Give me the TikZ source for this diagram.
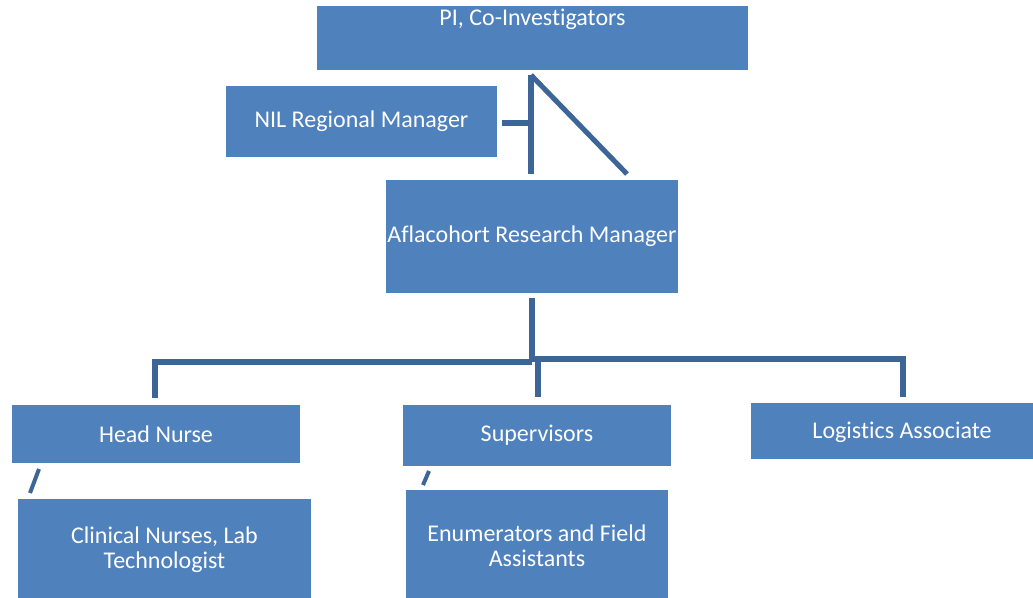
\documentclass[tikz,border=0pt]{standalone}
\usepackage{fontspec}
\setmainfont{Carlito}[RawFeature={-liga}]
\definecolor{boxblue}{HTML}{4F81BD}
\definecolor{linkblue}{HTML}{3D6598}
\begin{document}
\begin{tikzpicture}[x=0.75pt,y=-0.75pt,
  box/.style={draw=none,fill=boxblue,text=white,inner sep=0pt,align=center,font=\fontsize{18}{19}\selectfont},
  link/.style={draw=linkblue,line width=3.8pt},
  txt/.style={text=white,inner sep=0pt,align=center,font=\fontsize{18}{19}\selectfont}]
\useasboundingbox (0,0) rectangle (1033,597);
\clip (0,0) rectangle (1033,597);
% boxes
\node[box,minimum width=431*0.75pt,minimum height=64*0.75pt] (pi) at (532.5,38) {};
\node[txt] (pitext) at (532.5,19) {PI, Co-Investigators};
\node[box,minimum width=271*0.75pt,minimum height=71*0.75pt] (nil) at (361.5,121.5) {NIL Regional Manager};
\node[box,minimum width=292*0.75pt,minimum height=113*0.75pt] (afla) at (532,236.5) {Aflacohort Research Manager};
\node[box,minimum width=288*0.75pt,minimum height=58*0.75pt] (head) at (156,434) {Head Nurse};
\node[box,minimum width=268*0.75pt,minimum height=61*0.75pt] (sup) at (537,435) {};
\node[txt] (suptext) at (537,435) {Supervisors};
\node[box,minimum width=282*0.75pt,minimum height=56*0.75pt] (log) at (892,431) {};
\node[txt] (logtext) at (902,432) {Logistics Associate};
\node[box,minimum width=293*0.75pt,minimum height=120*0.75pt] (clin) at (164.5,559) {};
\node[txt] (clintext) at (164.5,549.5) {Clinical Nurses, Lab\\Technologist};
\node[box,minimum width=262*0.75pt,minimum height=120*0.75pt] (enum) at (537,550) {};
\node[txt] (enumtext) at (537,545.5) {Enumerators and Field\\Assistants};
% connector points
\coordinate (t1) at (531,75);
\coordinate (t2) at (531,174);
\coordinate (t3) at (502,123);
\coordinate (t4) at (627,174);
\coordinate (a1) at (532,298);
\coordinate (j1) at (532,362);
\coordinate (j2) at (532,359);
\coordinate (h1) at (155,362);
\coordinate (h2) at (155,398);
\coordinate (s1) at (538,362);
\coordinate (s2) at (538,397);
\coordinate (l1) at (903,359);
\coordinate (l2) at (903,397);
\coordinate (hn1) at (39,469);
\coordinate (hn2) at (30,493);
\coordinate (sn1) at (429,471);
\coordinate (sn2) at (423,485);
% connectors
\draw[link] (t1) -- (t2);
\draw[link] (t3) -- (t1 |- t3);
\draw[link] (t1) -- (t4);
\draw[link] (a1) -- (j1);
\draw[link] (j1) -- (h1) -- (h2);
\draw[link] (j2) -- (l1) -- (l2);
\draw[link] (s1) -- (s2);
\draw[link,line width=3pt] (hn1) -- (hn2);
\draw[link,line width=3pt] (sn1) -- (sn2);
\end{tikzpicture}
\end{document}
